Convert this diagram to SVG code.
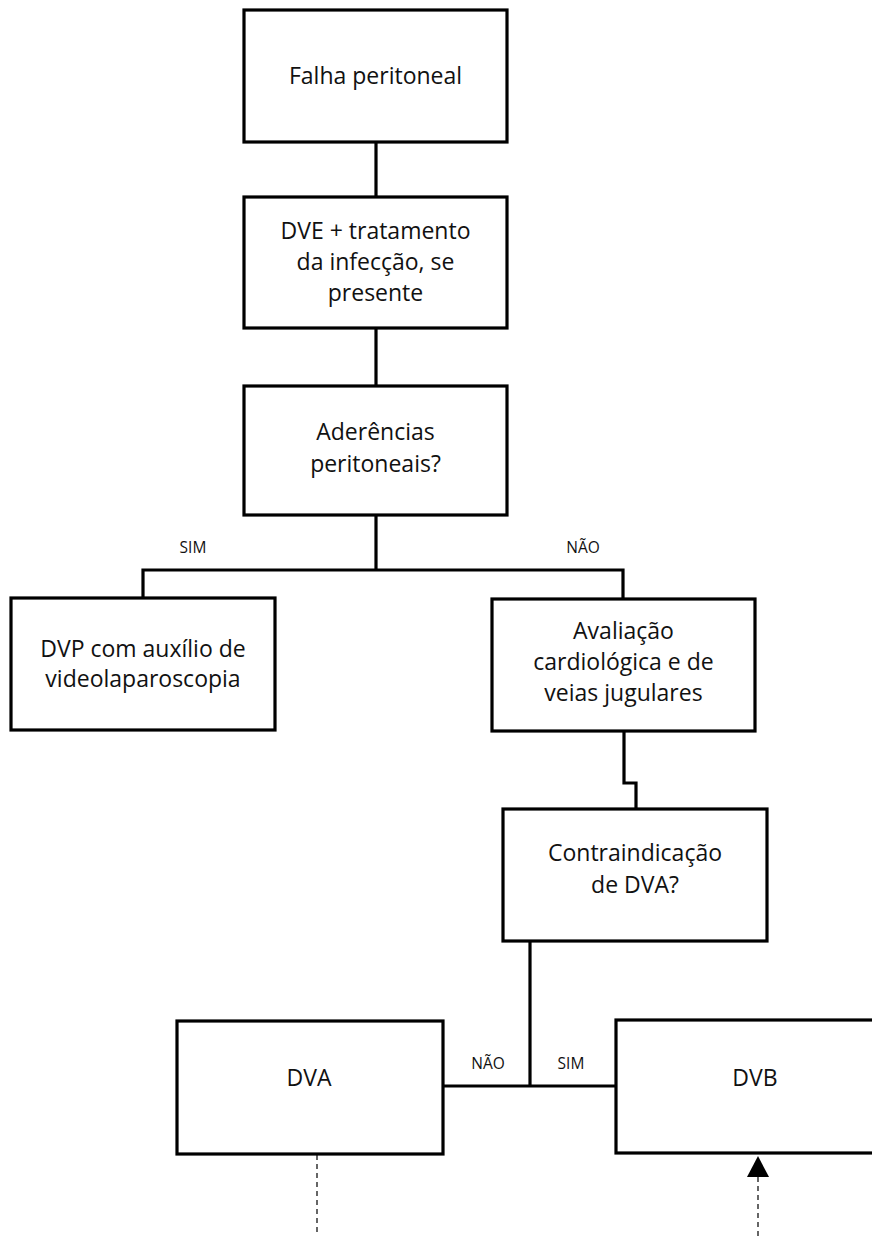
<svg xmlns="http://www.w3.org/2000/svg" width="872" height="1236" viewBox="0 0 872 1236">
<style>
.box{fill:#fff;stroke:#000;stroke-width:3.2}
.t{font-family:"Open Sans","Noto Sans",sans-serif;font-size:23px;fill:#111;text-anchor:middle}
.lbl{font-family:"Open Sans","Noto Sans",sans-serif;font-size:15.5px;fill:#111;text-anchor:middle}
.c{fill:none;stroke:#000;stroke-width:3.2}
.d{fill:none;stroke:#000;stroke-width:1.2;stroke-dasharray:5 4}
</style>
<rect width="872" height="1236" fill="#fff"/>
<g id="connectors">
<path class="c" d="M376,142 V197"/>
<path class="c" d="M376,328 V386"/>
<path class="c" d="M376,515 V570"/>
<path class="c" d="M143,598 V570 H623 V599"/>
<path class="c" d="M624,731 V783 H636 V809"/>
<path class="c" d="M530,941 V1086"/>
<path class="c" d="M443,1086 H616"/>
<path class="d" d="M317,1155 V1236"/>
<path class="d" d="M758,1236 V1177"/>
<path d="M758,1156 L769,1177 L747,1177 Z" fill="#000"/>
<text class="lbl" x="193" y="553">SIM</text>
<text class="lbl" x="583" y="553">NÃO</text>
<text class="lbl" x="488" y="1069">NÃO</text>
<text class="lbl" x="571" y="1069">SIM</text>
</g>
<g id="falha">
<rect class="box" x="244" y="10" width="263" height="132"/>
<text class="t" x="375.5" y="84">Falha peritoneal</text>
</g>
<g id="dve">
<rect class="box" x="244" y="197" width="263" height="131"/>
<text class="t" x="375.5" y="239">DVE + tratamento</text>
<text class="t" x="375.5" y="270">da infecção, se</text>
<text class="t" x="375.5" y="301">presente</text>
</g>
<g id="aderencias">
<rect class="box" x="244" y="386" width="263" height="129"/>
<text class="t" x="375.5" y="440">Aderências</text>
<text class="t" x="375.5" y="472">peritoneais?</text>
</g>
<g id="dvp">
<rect class="box" x="11" y="598" width="264" height="132"/>
<text class="t" x="143" y="657">DVP com auxílio de</text>
<text class="t" x="143" y="687">videolaparoscopia</text>
</g>
<g id="avaliacao">
<rect class="box" x="492" y="599" width="263" height="132"/>
<text class="t" x="623.5" y="639">Avaliação</text>
<text class="t" x="623.5" y="670">cardiológica e de</text>
<text class="t" x="623.5" y="701">veias jugulares</text>
</g>
<g id="contraindicacao">
<rect class="box" x="503" y="809" width="264" height="132"/>
<text class="t" x="635" y="861">Contraindicação</text>
<text class="t" x="635" y="893">de DVA?</text>
</g>
<g id="dva">
<rect class="box" x="177" y="1021" width="266" height="133"/>
<text class="t" x="309" y="1086">DVA</text>
</g>
<g id="dvb">
<rect class="box" x="616" y="1020" width="280" height="133"/>
<text class="t" x="755" y="1086">DVB</text>
</g>
</svg>
